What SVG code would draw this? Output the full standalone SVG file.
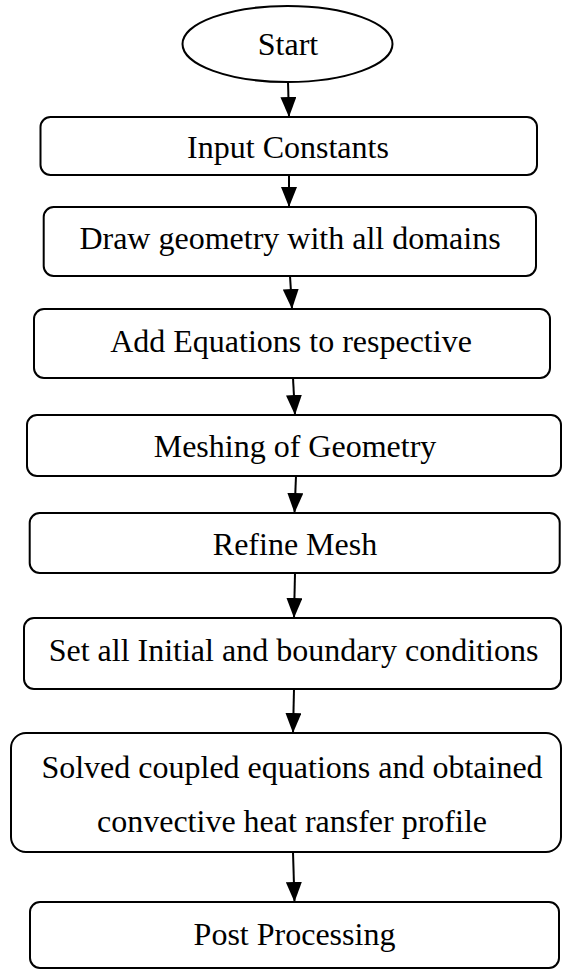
<svg xmlns="http://www.w3.org/2000/svg" width="562" height="970" viewBox="0 0 562 970">
<style>
.n{fill:#fff;stroke:#000;stroke-width:2}
.t{font-family:"Liberation Serif","Times New Roman",serif;font-size:32px;fill:#000;text-anchor:middle}
.c{stroke:#000;stroke-width:2;fill:none;marker-end:url(#ah)}
</style>
<defs>
<marker id="ah" viewBox="0 0 20 16" refX="20" refY="8" markerWidth="20" markerHeight="16" markerUnits="userSpaceOnUse" orient="auto">
<path d="M0,0 L20,8 L0,16 z" fill="#000"/>
</marker>
</defs>
<rect width="562" height="970" fill="#fff"/>
<g id="start"><ellipse class="n" cx="287.5" cy="44" rx="105" ry="38"/><text class="t" x="288" y="55">Start</text></g>
<g id="n1"><rect class="n" x="40.5" y="117" width="496.5" height="58" rx="10"/><text class="t" x="288" y="158">Input Constants</text></g>
<g id="n2"><rect class="n" x="43.7" y="207" width="492.3" height="69" rx="10"/><text class="t" x="290" y="249">Draw geometry with all domains</text></g>
<g id="n3"><rect class="n" x="34" y="309" width="516" height="69" rx="10"/><text class="t" x="291" y="352">Add Equations to respective</text></g>
<g id="n4"><rect class="n" x="27" y="415" width="534" height="61" rx="10"/><text class="t" x="295" y="457">Meshing of Geometry</text></g>
<g id="n5"><rect class="n" x="29.7" y="513" width="530" height="60" rx="10"/><text class="t" x="295" y="555">Refine Mesh</text></g>
<g id="n6"><rect class="n" x="24" y="618" width="537" height="71" rx="10"/><text class="t" x="293.5" y="661">Set all Initial and boundary conditions</text></g>
<g id="n7"><rect class="n" x="11" y="733" width="550" height="119" rx="15"/><text class="t" x="292" y="778">Solved coupled equations and obtained</text><text class="t" x="292" y="832">convective heat ransfer profile</text></g>
<g id="n8"><rect class="n" x="30" y="902" width="529" height="66" rx="10"/><text class="t" x="294.5" y="945">Post Processing</text></g>
<g id="connectors">
<line class="c" x1="288" y1="82" x2="289" y2="117"/>
<line class="c" x1="289" y1="175" x2="289" y2="207"/>
<line class="c" x1="290" y1="276" x2="292" y2="309"/>
<line class="c" x1="293" y1="378" x2="295" y2="415"/>
<line class="c" x1="296" y1="476" x2="294.5" y2="513"/>
<line class="c" x1="295" y1="573" x2="294" y2="618"/>
<line class="c" x1="294" y1="689" x2="293" y2="733"/>
<line class="c" x1="293" y1="852" x2="294.5" y2="902"/>
</g>
</svg>
